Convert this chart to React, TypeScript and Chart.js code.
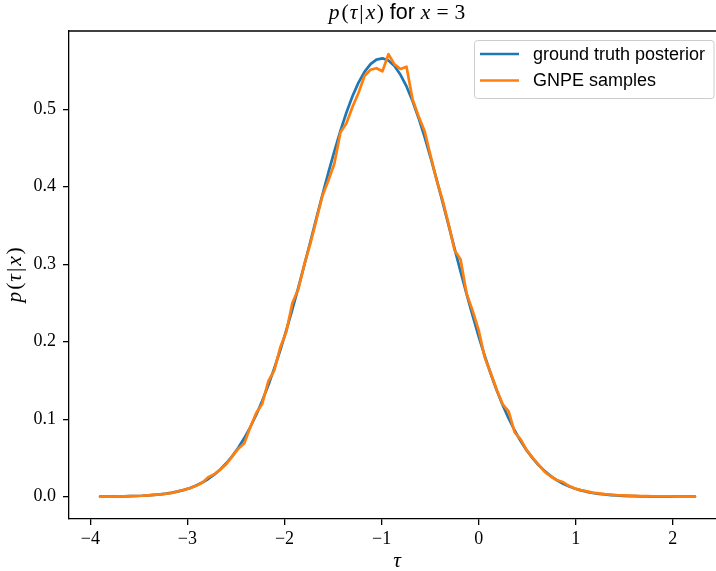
import React, { useEffect, useRef } from "react";
import { Chart, registerables } from "chart.js";

Chart.register(...registerables);

const tauGrid = [
  -3.9, -3.838, -3.776, -3.714, -3.652, -3.59, -3.529, -3.467, -3.405, -3.343,
  -3.281, -3.219, -3.157, -3.095, -3.033, -2.972, -2.91, -2.848, -2.786, -2.724,
  -2.662, -2.6, -2.538, -2.476, -2.414, -2.352, -2.291, -2.229, -2.167, -2.105,
  -2.043, -1.981, -1.919, -1.857, -1.795, -1.733, -1.672, -1.61, -1.548, -1.486,
  -1.424, -1.362, -1.3, -1.238, -1.176, -1.114, -1.053, -0.991, -0.929, -0.867,
  -0.805, -0.743, -0.681, -0.619, -0.557, -0.495, -0.434, -0.372, -0.31, -0.248,
  -0.186, -0.124, -0.062, 0.0, 0.062, 0.124, 0.186, 0.248, 0.309, 0.371,
  0.433, 0.495, 0.557, 0.619, 0.681, 0.743, 0.804, 0.866, 0.928, 0.99,
  1.052, 1.114, 1.176, 1.238, 1.3, 1.362, 1.423, 1.485, 1.547, 1.609,
  1.671, 1.733, 1.795, 1.857, 1.919, 1.981, 2.043, 2.105, 2.167, 2.228,
];

const truthPosterior = [
  0.0001, 0.0002, 0.0002, 0.0003, 0.0005, 0.0007, 0.0009, 0.0012, 0.0017, 0.0023,
  0.003, 0.004, 0.0052, 0.0068, 0.0088, 0.0113, 0.0144, 0.0182, 0.0228, 0.0284,
  0.0351, 0.0431, 0.0524, 0.0632, 0.0757, 0.0899, 0.1057, 0.1238, 0.1437, 0.1657,
  0.1893, 0.2149, 0.2418, 0.2702, 0.2995, 0.3293, 0.3593, 0.3892, 0.4182, 0.4459,
  0.472, 0.4958, 0.5168, 0.5344, 0.5483, 0.5583, 0.5641, 0.5657, 0.5628, 0.5557,
  0.5444, 0.5294, 0.5107, 0.4888, 0.4644, 0.4377, 0.4098, 0.3804, 0.3504, 0.3202,
  0.2905, 0.2614, 0.2335, 0.2069, 0.1819, 0.1587, 0.1374, 0.1181, 0.1009, 0.0854,
  0.0717, 0.0597, 0.0494, 0.0405, 0.033, 0.0266, 0.0214, 0.017, 0.0134, 0.0105,
  0.0082, 0.0063, 0.0048, 0.0037, 0.0028, 0.0021, 0.0015, 0.0011, 0.0008, 0.0006,
  0.0004, 0.0003, 0.0002, 0.0002, 0.0001, 0.0001, 0.0001, 0.0, 0.0, 0.0,
];

const gnpeSamples = [
  0.0001, 0.0002, 0.0002, 0.0003, 0.0005, 0.0007, 0.0009, 0.0012, 0.0017, 0.0023,
  0.003, 0.0038, 0.0048, 0.007, 0.009, 0.011, 0.014, 0.018, 0.025, 0.029,
  0.035, 0.042, 0.052, 0.062, 0.069, 0.09, 0.108, 0.12, 0.149, 0.163,
  0.193, 0.213, 0.25, 0.268, 0.3, 0.327, 0.357, 0.388, 0.408, 0.43,
  0.47, 0.482, 0.503, 0.521, 0.543, 0.551, 0.553, 0.549, 0.571, 0.558,
  0.552, 0.555, 0.513, 0.491, 0.472, 0.44, 0.409, 0.383, 0.352, 0.318,
  0.306, 0.262, 0.24, 0.215, 0.18, 0.16, 0.138, 0.119, 0.11, 0.083,
  0.074, 0.06, 0.05, 0.041, 0.032, 0.026, 0.0215, 0.019, 0.014, 0.0105,
  0.0085, 0.0068, 0.0052, 0.0042, 0.0032, 0.0026, 0.002, 0.0016, 0.0013, 0.001,
  0.0008, 0.0006, 0.0005, 0.0004, 0.0003, 0.0003, 0.0002, 0.0002, 0.0001, 0.0001,
];

const xTickValues = [-4, -3, -2, -1, 0, 1, 2];
const yTickValues = [0, 0.1, 0.2, 0.3, 0.4, 0.5];
const seriesLabels = ["ground truth posterior", "GNPE samples"];
const seriesColors = ["#1f77b4", "#ff7f0e"];

const SERIF = '"Liberation Serif", "Times New Roman", serif';
const SANS = '"Liberation Sans", Arial, sans-serif';
const FS = 18;
const TS = 21.5;
const tItalic = `italic ${TS}px ${SERIF}`;
const tSerif = `${TS}px ${SERIF}`;
const tSans = `${TS}px ${SANS}`;
const fSans = `${FS}px ${SANS}`;

type Seg = { t: string; f: string; gap?: number };
const mathLabelSegs: Seg[] = [
  { t: "p", f: tItalic, gap: 2 },
  { t: "(", f: tSerif, gap: 1 },
  { t: "\u03c4", f: tItalic, gap: 2 },
  { t: "|", f: tSerif, gap: 2 },
  { t: "x", f: tItalic, gap: 1.5 },
  { t: ")", f: tSerif },
];
const titleSegs: Seg[] = [
  ...mathLabelSegs,
  { t: " for ", f: tSans },
  { t: "x", f: tItalic, gap: 6 },
  { t: "=", f: tSerif, gap: 6 },
  { t: "3", f: tSerif },
];

function drawSegs(ctx: CanvasRenderingContext2D, segs: Seg[], cx: number, y: number) {
  let w = 0;
  for (const s of segs) {
    ctx.font = s.f;
    w += ctx.measureText(s.t).width + (s.gap || 0);
  }
  let x = cx - w / 2;
  ctx.textAlign = "left";
  for (const s of segs) {
    ctx.font = s.f;
    ctx.fillText(s.t, x, y);
    x += ctx.measureText(s.t).width + (s.gap || 0);
  }
}

const decorPlugin = {
  id: "decor",
  afterDraw(chart: any) {
    const ctx: CanvasRenderingContext2D = chart.ctx;
    const a = chart.chartArea;
    ctx.save();
    ctx.strokeStyle = "#000";
    ctx.lineWidth = 1.3;
    ctx.beginPath();
    ctx.moveTo(a.left, a.top);
    ctx.lineTo(a.right, a.top);
    ctx.stroke();

    ctx.fillStyle = "#000";
    ctx.textBaseline = "alphabetic";
    drawSegs(ctx, titleSegs, 397, 19);
    ctx.font = tItalic;
    ctx.textAlign = "center";
    ctx.fillText("\u03c4", 397, 567);
    ctx.save();
    ctx.translate(21, (a.top + a.bottom) / 2);
    ctx.rotate(-Math.PI / 2);
    drawSegs(ctx, mathLabelSegs, 0, 0);
    ctx.restore();

    const bx = 474.5, by = 40.5, bw = 239.5, bh = 58, r = 3;
    ctx.beginPath();
    ctx.moveTo(bx + r, by);
    ctx.lineTo(bx + bw - r, by);
    ctx.arcTo(bx + bw, by, bx + bw, by + r, r);
    ctx.lineTo(bx + bw, by + bh - r);
    ctx.arcTo(bx + bw, by + bh, bx + bw - r, by + bh, r);
    ctx.lineTo(bx + r, by + bh);
    ctx.arcTo(bx, by + bh, bx, by + bh - r, r);
    ctx.lineTo(bx, by + r);
    ctx.arcTo(bx, by, bx + r, by, r);
    ctx.closePath();
    ctx.fillStyle = "rgba(255,255,255,0.8)";
    ctx.fill();
    ctx.strokeStyle = "#cccccc";
    ctx.lineWidth = 1;
    ctx.stroke();

    const rows = [54, 80.5];
    chart.data.datasets.forEach((ds: any, i: number) => {
      ctx.strokeStyle = ds.borderColor;
      ctx.lineWidth = 2.7;
      ctx.beginPath();
      ctx.moveTo(480, rows[i]);
      ctx.lineTo(519, rows[i]);
      ctx.stroke();
      ctx.fillStyle = "#000";
      ctx.font = fSans;
      ctx.textAlign = "left";
      ctx.textBaseline = "middle";
      ctx.fillText(ds.label, 533, rows[i] + 1);
    });
    ctx.restore();
  },
};

export default function App() {
  const ref = useRef<HTMLCanvasElement>(null);
  useEffect(() => {
    document.body.style.margin = "0";
    const canvas = ref.current!;
    const axisCommon = {
      type: "linear" as const,
      grid: {
        display: true,
        drawOnChartArea: false,
        drawTicks: true,
        tickLength: 6,
        color: "#000",
        lineWidth: 1.3,
      },
      border: { display: true, color: "#000", width: 1.3 },
    };
    const chart = new Chart(canvas, {
      type: "line",
      data: {
        datasets: [truthPosterior, gnpeSamples].map((vals, k) => ({
          label: seriesLabels[k],
          data: tauGrid.map((t, i) => ({ x: t, y: vals[i] })),
          borderColor: seriesColors[k],
          backgroundColor: seriesColors[k],
          borderWidth: 2.7,
          pointRadius: 0,
          fill: false,
          tension: 0,
          order: k === 0 ? 1 : 0,
          borderCapStyle: "round" as const,
          borderJoinStyle: "round" as const,
        })),
      },
      options: {
        animation: false,
        responsive: false,
        devicePixelRatio: 1,
        layout: { padding: { top: 31, right: 0, left: 0, bottom: 0 } },
        plugins: {
          legend: { display: false },
          title: { display: false },
          tooltip: { enabled: false },
        },
        scales: {
          x: {
            ...axisCommon,
            min: -4.22,
            max: 2.445,
            afterFit: (s: any) => {
              s.height = 52;
            },
            afterBuildTicks: (s: any) => {
              s.ticks = xTickValues.map((v) => ({ value: v }));
            },
            ticks: {
              color: "#000",
              font: { family: SERIF, size: FS },
              padding: 3,
              maxRotation: 0,
              autoSkip: false,
              callback: (v: any) => (v < 0 ? "\u2212" + Math.abs(v) : String(v)),
            },
          },
          y: {
            ...axisCommon,
            min: -0.0288,
            max: 0.601,
            afterFit: (s: any) => {
              s.width = 69;
            },
            afterBuildTicks: (s: any) => {
              s.ticks = yTickValues.map((v) => ({ value: v }));
            },
            ticks: {
              color: "#000",
              font: { family: SERIF, size: FS },
              padding: 7,
              autoSkip: false,
              callback: (v: any) => Number(v).toFixed(1),
            },
          },
        },
      },
      plugins: [decorPlugin],
    });
    return () => chart.destroy();
  }, []);
  return (
    <div style={{ width: 716, height: 571 }}>
      <canvas ref={ref} width={716} height={571} style={{ display: "block" }} />
    </div>
  );
}
